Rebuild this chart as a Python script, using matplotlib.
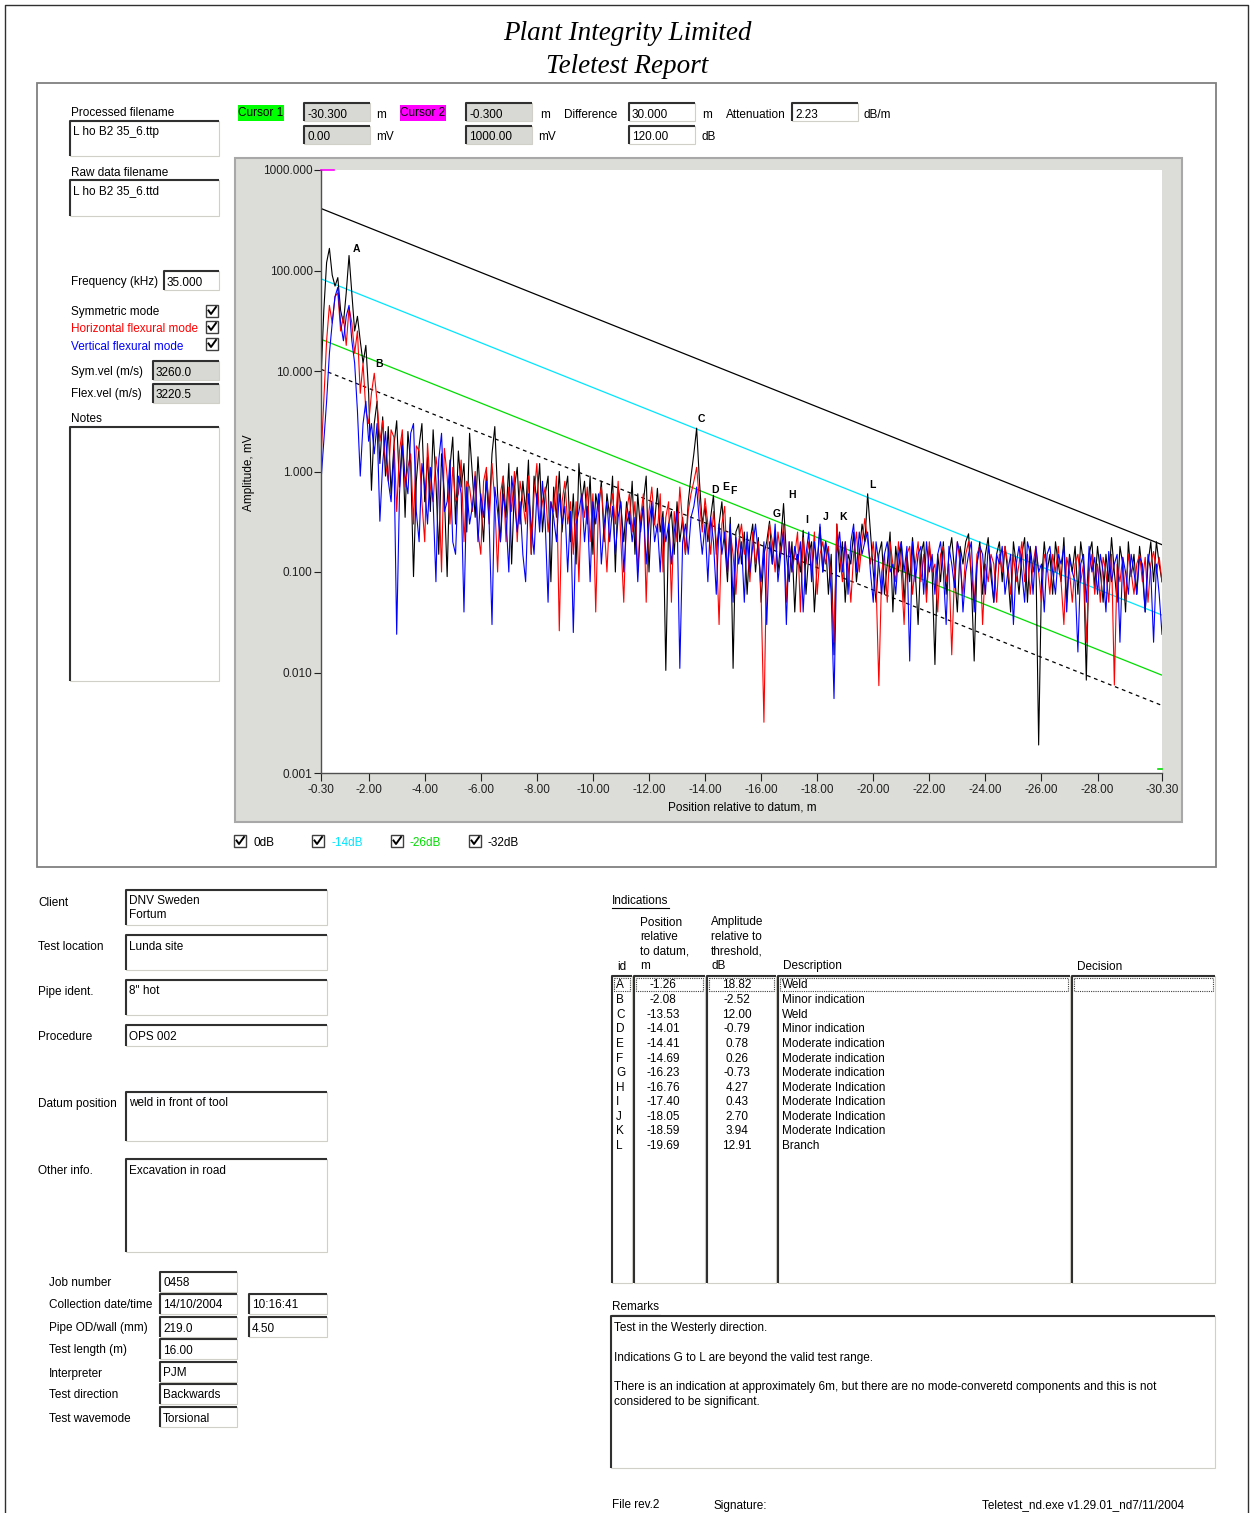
import matplotlib
matplotlib.use('Agg')
import matplotlib.pyplot as plt
import numpy as np
from matplotlib.patches import Rectangle
from matplotlib.ticker import NullLocator

x_start, x_end, step = -0.30, -30.30, 0.1

black_mv = [
    8, 40, 120, 166, 90, 70, 85, 40, 30, 60,
    141, 60, 25, 35, 20, 12, 18, 6, 0.65, 3,
    5, 1.2, 3.5, 0.9, 2.8, 0.6, 1.8, 3.2, 0.7, 2.2,
    0.35, 2.5, 1.2, 0.09, 0.8, 1.8, 3, 0.5, 1.4, 0.4,
    2.6, 0.8, 0.15, 1.5, 0.6, 0.09, 1.1, 2.2, 0.3, 1.6,
    0.7, 1.2, 0.25, 2.4, 0.9, 0.35, 1.4, 0.5, 0.2, 1.0,
    0.4, 1.5, 2.8, 0.6, 0.2, 0.9, 0.35, 1.2, 0.12, 0.7,
    1.1, 0.3, 0.8, 0.4, 1.3, 0.15, 0.9, 0.5, 1.2, 0.25,
    0.6, 0.9, 0.08, 0.7, 0.35, 1.0, 0.25, 0.6, 0.9, 0.2,
    0.6, 0.12, 1.2, 0.5, 0.8, 0.3, 0.9, 0.15, 0.6, 0.4,
    0.8, 0.2, 0.6, 0.35, 0.9, 0.1, 0.7, 0.45, 0.2, 0.5,
    0.3, 0.8, 0.15, 0.6, 0.25, 0.5, 0.9, 0.1, 0.45, 0.3,
    0.68, 0.25, 0.4, 0.0105, 0.3, 0.4, 0.15, 0.5, 0.2, 0.35,
    0.15, 0.5, 0.9, 1.5, 2.7, 0.8, 0.3, 0.45, 0.2, 0.35,
    0.58, 0.15, 0.3, 0.5, 0.2, 0.08, 0.35, 0.011, 0.25, 0.3,
    0.12, 0.25, 0.06, 0.2, 0.3, 0.1, 0.22, 0.05, 0.15, 0.2,
    0.32, 0.12, 0.25, 0.1, 0.2, 0.48, 0.15, 0.08, 0.2, 0.04,
    0.15, 0.1, 0.26, 0.06, 0.15, 0.2, 0.04, 0.12, 0.28, 0.1,
    0.2, 0.06, 0.15, 0.015, 0.3, 0.1, 0.2, 0.05, 0.15, 0.12,
    0.25, 0.08, 0.15, 0.3, 0.2, 0.6, 0.25, 0.1, 0.05, 0.15,
    0.2, 0.06, 0.12, 0.25, 0.04, 0.18, 0.1, 0.2, 0.05, 0.15,
    0.08, 0.22, 0.1, 0.03, 0.15, 0.2, 0.06, 0.18, 0.1, 0.012,
    0.15, 0.08, 0.2, 0.06, 0.15, 0.22, 0.1, 0.04, 0.18, 0.12,
    0.2, 0.24, 0.08, 0.013, 0.12, 0.2, 0.06, 0.15, 0.22, 0.09,
    0.05, 0.15, 0.2, 0.08, 0.18, 0.1, 0.04, 0.2, 0.12, 0.06,
    0.15, 0.22, 0.05, 0.18, 0.1, 0.15, 0.0019, 0.08, 0.2, 0.1,
    0.15, 0.06, 0.2, 0.12, 0.08, 0.22, 0.05, 0.15, 0.1, 0.18,
    0.06, 0.2, 0.12, 0.0084, 0.15, 0.2, 0.07, 0.18, 0.1, 0.05,
    0.15, 0.08, 0.22, 0.1, 0.05, 0.18, 0.12, 0.04, 0.2, 0.09,
    0.15, 0.06, 0.18, 0.1, 0.04, 0.12, 0.2, 0.08, 0.2, 0.12,
    0.08]

red_mv = [
    1.3, 5, 20, 45, 30, 55, 60, 25, 35, 18,
    43, 30, 15, 25, 6, 12, 4, 3, 6, 9.5,
    5, 2, 3.2, 1.2, 0.8, 2.6, 2.2, 0.4, 1.6, 2.6,
    0.7, 1.1, 1.5, 0.3, 1.8, 1.6, 0.5, 0.2, 1.9, 0.7,
    0.5, 1.4, 0.8, 0.1, 1.7, 0.9, 0.3, 1.1, 0.5, 0.6,
    1.3, 0.2, 0.8, 0.7, 0.4, 1.0, 0.25, 0.15, 0.8, 1.1,
    0.3, 1.2, 0.5, 0.1, 0.6, 0.9, 0.2, 0.7, 0.4, 1.0,
    0.2, 0.8, 0.5, 0.3, 0.9, 0.15, 0.6, 1.2, 0.3, 0.5,
    0.7, 0.25, 0.5, 0.4, 0.9, 0.026, 0.5, 0.8, 0.3, 0.5,
    0.15, 0.5, 0.08, 0.6, 0.35, 0.7, 0.2, 0.6, 0.04, 0.5,
    0.7, 0.3, 0.1, 0.4, 0.6, 0.3, 0.8, 0.2, 0.05, 0.4,
    0.6, 0.25, 0.5, 0.1, 0.35, 0.6, 0.05, 0.4, 0.7, 0.3,
    0.25, 0.6, 0.1, 0.35, 0.5, 0.05, 0.4, 0.2, 0.7, 0.3,
    0.15, 0.4, 0.6, 0.8, 1.1, 0.5, 0.25, 0.54, 0.3, 0.15,
    0.4, 0.2, 0.03, 0.3, 0.45, 0.1, 0.25, 0.15, 0.06, 0.2,
    0.3, 0.15, 0.2, 0.08, 0.25, 0.12, 0.2, 0.06, 0.0032, 0.15,
    0.3, 0.2, 0.1, 0.25, 0.15, 0.3, 0.05, 0.2, 0.1, 0.15,
    0.25, 0.04, 0.22, 0.12, 0.2, 0.1, 0.25, 0.06, 0.15, 0.2,
    0.12, 0.18, 0.08, 0.02, 0.3, 0.15, 0.08, 0.2, 0.12, 0.05,
    0.15, 0.25, 0.1, 0.2, 0.34, 0.2, 0.12, 0.2, 0.08, 0.0074,
    0.1, 0.15, 0.05, 0.2, 0.12, 0.08, 0.2, 0.1, 0.03, 0.15,
    0.18, 0.06, 0.12, 0.2, 0.08, 0.15, 0.05, 0.2, 0.1, 0.12,
    0.04, 0.15, 0.18, 0.08, 0.12, 0.015, 0.1, 0.2, 0.12, 0.06,
    0.15, 0.2, 0.1, 0.05, 0.15, 0.18, 0.03, 0.12, 0.08, 0.15,
    0.12, 0.05, 0.15, 0.1, 0.18, 0.12, 0.06, 0.15, 0.08, 0.12,
    0.2, 0.08, 0.15, 0.06, 0.12, 0.18, 0.1, 0.05, 0.15, 0.12,
    0.06, 0.15, 0.1, 0.18, 0.08, 0.03, 0.14, 0.1, 0.05, 0.12,
    0.15, 0.08, 0.12, 0.02, 0.1, 0.15, 0.06, 0.12, 0.05, 0.14,
    0.1, 0.05, 0.15, 0.0075, 0.12, 0.08, 0.14, 0.05, 0.15, 0.1,
    0.06, 0.12, 0.15, 0.08, 0.14, 0.05, 0.12, 0.16, 0.1, 0.14,
    0.08]

blue_mv = [
    0.8, 2, 5, 15, 30, 55, 68, 30, 20, 35,
    45, 20, 12, 4, 0.9, 3, 5, 2, 3, 1.5,
    3, 0.32, 1.2, 2.5, 0.8, 0.5, 1.6, 0.024, 0.6, 1.8,
    0.9, 0.6, 2.4, 3, 0.4, 0.2, 1.2, 0.7, 0.3, 1.1,
    0.5, 0.08, 1.3, 2.4, 0.4, 0.5, 1.3, 0.2, 0.15, 0.9,
    0.6, 0.04, 0.7, 0.3, 0.45, 0.9, 0.2, 0.6, 0.35, 0.8,
    0.3, 0.03, 0.7, 0.4, 0.2, 0.6, 0.35, 0.1, 0.9, 0.5,
    0.25, 0.5, 0.15, 0.08, 0.6, 0.3, 0.15, 0.6, 0.25, 0.8,
    0.3, 0.05, 0.5, 0.35, 0.2, 0.6, 0.3, 0.45, 0.1, 0.4,
    0.025, 0.3, 0.4, 0.6, 0.2, 0.45, 0.08, 0.5, 0.3, 0.6,
    0.12, 0.3, 0.5, 0.2, 0.45, 0.15, 0.35, 0.5, 0.1, 0.3,
    0.4, 0.2, 0.35, 0.08, 0.3, 0.45, 0.12, 0.3, 0.5, 0.2,
    0.3, 0.1, 0.35, 0.2, 0.3, 0.12, 0.25, 0.4, 0.011, 0.2,
    0.3, 0.15, 0.35, 0.45, 0.7, 0.3, 0.15, 0.3, 0.08, 0.35,
    0.2, 0.06, 0.3, 0.15, 0.25, 0.1, 0.3, 0.05, 0.22, 0.12,
    0.2, 0.05, 0.25, 0.1, 0.18, 0.3, 0.15, 0.08, 0.2, 0.03,
    0.2, 0.12, 0.3, 0.08, 0.15, 0.25, 0.03, 0.2, 0.1, 0.18,
    0.12, 0.2, 0.04, 0.15, 0.25, 0.08, 0.2, 0.12, 0.3, 0.1,
    0.2, 0.15, 0.06, 0.0055, 0.15, 0.25, 0.1, 0.2, 0.06, 0.2,
    0.3, 0.1, 0.25, 0.15, 0.2, 0.25, 0.1, 0.05, 0.2, 0.12,
    0.06, 0.15, 0.2, 0.1, 0.12, 0.06, 0.15, 0.2, 0.1, 0.18,
    0.013, 0.2, 0.08, 0.15, 0.18, 0.06, 0.2, 0.1, 0.15, 0.06,
    0.15, 0.2, 0.1, 0.03, 0.18, 0.12, 0.07, 0.2, 0.15, 0.04,
    0.1, 0.15, 0.2, 0.04, 0.12, 0.18, 0.15, 0.06, 0.18, 0.12,
    0.05, 0.15, 0.12, 0.18, 0.06, 0.1, 0.15, 0.03, 0.12, 0.18,
    0.1, 0.05, 0.2, 0.15, 0.06, 0.18, 0.1, 0.12, 0.04, 0.15,
    0.18, 0.1, 0.06, 0.15, 0.12, 0.18, 0.04, 0.14, 0.1, 0.08,
    0.016, 0.12, 0.15, 0.05, 0.18, 0.1, 0.14, 0.06, 0.15, 0.1,
    0.04, 0.16, 0.08, 0.12, 0.15, 0.02, 0.14, 0.1, 0.06, 0.15,
    0.1, 0.06, 0.14, 0.12, 0.04, 0.15, 0.1, 0.02, 0.12, 0.06,
    0.024]

# threshold (DAC) lines: amplitude at -0.30 m and at -30.30 m
dac_names = ['0dB', '-14dB', '-26dB', '-32dB']
dac_start = [414, 82.6, 20.7, 10.4]
dac_end = [0.187, 0.0373, 0.0094, 0.0047]

# indication letters as placed on the plot
mark_ids = list('ABCDEFGHIJKL')
mark_x = [-1.55, -2.37, -13.87, -14.34, -14.73, -15.01, -16.55, -17.12, -17.62, -18.30, -18.91, -19.98]
mark_y = [138, 10, 2.8, 0.56, 0.6, 0.54, 0.32, 0.5, 0.28, 0.3, 0.3, 0.62]

xtick_vals = [-0.30, -2, -4, -6, -8, -10, -12, -14, -16, -18, -20, -22, -24, -26, -28, -30.30]
xtick_labels = ['-0.30', '-2.00', '-4.00', '-6.00', '-8.00', '-10.00', '-12.00', '-14.00', '-16.00',
                '-18.00', '-20.00', '-22.00', '-24.00', '-26.00', '-28.00', '-30.30']
ytick_vals = [0.001, 0.01, 0.1, 1, 10, 100, 1000]
ytick_labels = ['0.001', '0.010', '0.100', '1.000', '10.000', '100.000', '1000.000']

# indications table
ind_ids = list('ABCDEFGHIJKL')
ind_pos = ['-1.26', '-2.08', '-13.53', '-14.01', '-14.41', '-14.69', '-16.23', '-16.76', '-17.40', '-18.05', '-18.59', '-19.69']
ind_amp = ['18.82', '-2.52', '12.00', '-0.79', '0.78', '0.26', '-0.73', '4.27', '0.43', '2.70', '3.94', '12.91']
ind_desc = ['Weld', 'Minor indication', 'Weld', 'Minor indication', 'Moderate indication',
            'Moderate indication', 'Moderate indication', 'Moderate Indication', 'Moderate Indication',
            'Moderate Indication', 'Moderate Indication', 'Branch']

remarks = ['Test in the Westerly direction.', '',
           'Indications G to L are beyond the valid test range.', '',
           'There is an indication at approximately 6m, but there are no mode-converetd components and this is not',
           'considered to be significant.']

W, H = 1253, 1513
FS = 8.5
plt.rcParams['font.family'] = ['Liberation Sans', 'DejaVu Sans']

fig = plt.figure(figsize=(W / 100, H / 100), dpi=100)
bg = fig.add_axes([0, 0, 1, 1], zorder=0)
bg.set_xlim(0, W)
bg.set_ylim(H, 0)
bg.axis('off')


def txt(x, y, s, color='black', size=FS, ha='left', **kw):
    bg.text(x, y + 1.5, s, color=color, fontsize=size, ha=ha, va='center', **kw)


def field(x0, y0, x1, y1, lines=(), face='white', ha='left'):
    bg.add_patch(Rectangle((x0, y0), x1 - x0, y1 - y0, facecolor=face, edgecolor='#d0d0c8', lw=0.8))
    bg.plot([x0, x0, x1], [y1, y0, y0], color='#303030', lw=1.5, solid_capstyle='butt')
    for k, s in enumerate(lines):
        txt(x0 + 3, y0 + 10 + 14 * k, s)


def checkbox(x, y):
    bg.add_patch(Rectangle((x - 6, y - 6), 12, 12, facecolor='white', edgecolor='#404040', lw=1))
    bg.plot([x - 3.5, x - 1, x + 4], [y - 0.5, y + 3, y - 4], color='black', lw=1.4)


# page and panel frames
bg.plot([5, 5, 1248, 1248], [1513, 5, 5, 1513], color='#303030', lw=1)
bg.add_patch(Rectangle((37, 83), 1179, 784, facecolor='none', edgecolor='#808080', lw=1.3))

txt(627, 32, 'Plant Integrity Limited', size=19.5, ha='center', family='Liberation Serif', style='italic')
txt(627, 65, 'Teletest Report', size=19.5, ha='center', family='Liberation Serif', style='italic')

# left panel
txt(71, 111, 'Processed filename')
field(70, 121, 219, 156, ['L ho B2 35_6.ttp'])
txt(71, 171, 'Raw data filename')
field(70, 180, 219, 216, ['L ho B2 35_6.ttd'])
txt(71, 281, 'Frequency (kHz)')
field(164, 271, 219, 290, ['35.000'])
txt(71, 311, 'Symmetric mode')
txt(71, 328, 'Horizontal flexural mode', color='red')
txt(71, 345, 'Vertical flexural mode', color='blue')
for yy in (311, 327, 344):
    checkbox(212, yy)
txt(71, 370, 'Sym.vel (m/s)')
field(153, 361, 219, 380, ['3260.0'], face='#d8d8d4')
txt(71, 393, 'Flex.vel (m/s)')
field(153, 384, 219, 403, ['3220.5'], face='#d8d8d4')
txt(71, 417, 'Notes')
field(70, 427, 219, 681)

# cursor row
bg.add_patch(Rectangle((238, 105), 46, 16, facecolor='#00ff00', edgecolor='none'))
txt(261, 112, 'Cursor 1', ha='center')
bg.add_patch(Rectangle((400, 105), 46, 16, facecolor='#ff00ff', edgecolor='none'))
txt(423, 112, 'Cursor 2', ha='center')
field(304, 103, 370, 121, ['-30.300'], face='#d8d8d4')
field(304, 126, 370, 144, ['0.00'], face='#d8d8d4')
field(466, 103, 532, 121, ['-0.300'], face='#d8d8d4')
field(466, 126, 532, 144, ['1000.00'], face='#d8d8d4')
field(629, 103, 695, 121, ['30.000'])
field(629, 126, 695, 144, ['120.00'])
field(792, 103, 858, 121, ['2.23'])
txt(376, 113, 'm')
txt(376, 135, 'mV')
txt(540, 113, 'm')
txt(538, 135, 'mV')
txt(564, 113, 'Difference')
txt(702, 113, 'm')
txt(702, 135, 'dB')
txt(726, 113, 'Attenuation')
txt(864, 113, 'dB/m')

# plot panel
bg.add_patch(Rectangle((235, 158), 947, 664, facecolor='#dcdcd8', edgecolor='#a8a8a8', lw=1.5))
txt(249, 471, 'Amplitude, mV', ha='center', rotation=90)
txt(742, 806, 'Position relative to datum, m', ha='center')

dac_colors = ['black', '#00e5ff', '#00dd00', 'black']
for name, x0, col in zip(dac_names, (240, 318, 397, 475), dac_colors):
    checkbox(x0, 841)
    txt(x0 + 13, 841, name, color=col)

ax = fig.add_axes([321 / W, 1 - 773 / H, 841 / W, 603 / H], zorder=2)
ax.set_facecolor('white')
ax.set_yscale('log')

dac_styles = ['-', '-', '-', (0, (3, 3))]
for s, e, col, ls in zip(dac_start, dac_end, dac_colors, dac_styles):
    ax.plot([x_start, x_end], [s, e], color=col, lw=0.9, ls=ls)

for vals, col in ((black_mv, 'black'), (red_mv, 'red'), (blue_mv, 'blue')):
    xs = x_start - step * np.arange(len(vals))
    ax.plot(xs, vals, color=col, lw=0.8)

for m, mx, my in zip(mark_ids, mark_x, mark_y):
    ax.text(mx, my * 1.05, m, ha='center', va='bottom', fontsize=7.5, fontweight='bold')

ax.plot([x_start, -0.75], [1000, 1000], color='#ff00ff', lw=1.2, clip_on=False)
ax.plot([-30.15, x_end], [0.0011, 0.0011], color='#00dd00', lw=1.2, clip_on=False)

ax.set_xlim(x_start, x_end)
ax.set_ylim(0.001, 1000)
ax.set_xticks(xtick_vals)
ax.set_xticklabels(xtick_labels)
ax.set_yticks(ytick_vals)
ax.set_yticklabels(ytick_labels)
ax.yaxis.set_minor_locator(NullLocator())
ax.tick_params(direction='out', length=5, width=0.8, labelsize=FS, pad=1, colors='#202020')
ax.tick_params(axis='x', length=6, pad=2)
for side in ('top', 'right'):
    ax.spines[side].set_visible(False)
for side in ('left', 'bottom'):
    ax.spines[side].set_color('#505050')
    ax.spines[side].set_linewidth(1)

# client / test details
details = [('Client', 901, (126, 890, 327, 925), ['DNV Sweden', 'Fortum']),
           ('Test location', 946, (126, 935, 327, 970), ['Lunda site']),
           ('Pipe ident.', 991, (126, 980, 327, 1015), ['8" hot']),
           ('Procedure', 1036, (126, 1025, 327, 1046), ['OPS 002']),
           ('Datum position', 1103, (126, 1092, 327, 1141), ['weld in front of tool']),
           ('Other info.', 1170, (126, 1159, 327, 1252), ['Excavation in road'])]
for name, yy, box, lines in details:
    txt(38, yy, name)
    field(*box, lines)

job = [('Job number', 1282, '0458', None),
       ('Collection date/time', 1304, '14/10/2004', '10:16:41'),
       ('Pipe OD/wall (mm)', 1327, '219.0', '4.50'),
       ('Test length (m)', 1349, '16.00', None),
       ('Interpreter', 1372, 'PJM', None),
       ('Test direction', 1394, 'Backwards', None),
       ('Test wavemode', 1417, 'Torsional', None)]
for name, yy, v1, v2 in job:
    txt(49, yy, name)
    field(160, yy - 10, 237, yy + 10, [v1])
    if v2:
        field(249, yy - 10, 327, yy + 10, [v2])

# indications table
txt(612, 899, 'Indications')
bg.plot([612, 669], [908, 908], color='black', lw=0.8)
for k, s in enumerate(['Position', 'relative', 'to datum,', 'm']):
    txt(640, 921 + 14.6 * k, s)
for k, s in enumerate(['Amplitude', 'relative to', 'threshold,', 'dB']):
    txt(711, 921 + 14.6 * k, s)
txt(617, 965, 'id')
txt(783, 965, 'Description')
txt(1077, 965, 'Decision')
cols = [(612, 632), (634, 705), (707, 776), (778, 1070), (1072, 1215)]
for c0, c1 in cols:
    field(c0, 976, c1, 1283)
    bg.add_patch(Rectangle((c0 + 2, 978), c1 - c0 - 4, 13, facecolor='none', edgecolor='#404040',
                           lw=0.8, ls=(0, (1, 1))))
for k in range(len(ind_ids)):
    yy = 984 + 14.6 * k
    txt(616, yy, ind_ids[k])
    txt(663, yy, ind_pos[k], ha='center')
    txt(737, yy, ind_amp[k], ha='center')
    txt(782, yy, ind_desc[k])

# remarks
txt(612, 1306, 'Remarks')
bg.plot([612, 660], [1315, 1315], color='black', lw=0.8)
field(611, 1316, 1215, 1468)
for k, s in enumerate(remarks):
    if s:
        txt(614, 1327 + 14.6 * k, s)

txt(612, 1504, 'File rev.2')
txt(713, 1504, 'Signature:')
txt(982, 1504, 'Teletest_nd.exe v1.29.01_nd7/11/2004')

fig.savefig('out.png', dpi=100)
